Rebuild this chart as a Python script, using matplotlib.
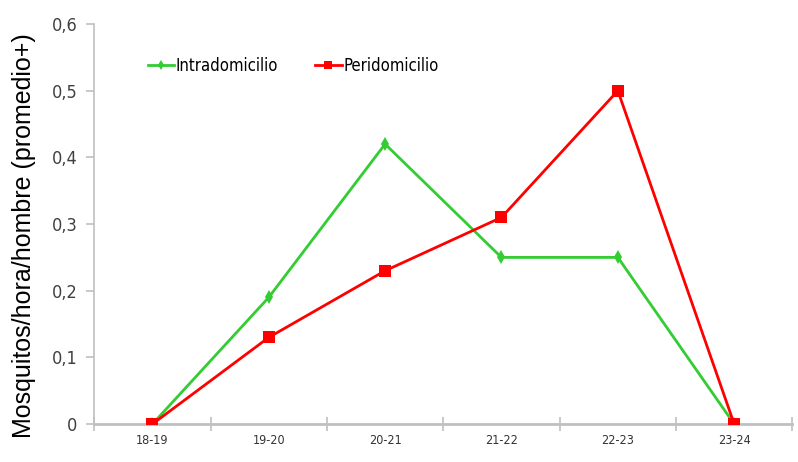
import matplotlib.pyplot as plt

categories = ['18-19', '19-20', '20-21', '21-22', '22-23', '23-24']
intra = [0, 0.19, 0.42, 0.25, 0.25, 0]
peri = [0, 0.13, 0.23, 0.31, 0.50, 0]
yticks = [0, 0.1, 0.2, 0.3, 0.4, 0.5, 0.6]
ytick_labels = ['0', '0,1', '0,2', '0,3', '0,4', '0,5', '0,6']

narrow = {'family': 'DejaVu Sans', 'stretch': 'condensed'}

fig = plt.figure(figsize=(7.98, 4.62), dpi=100)
ax = fig.add_axes([0.118, 0.082, 0.875, 0.866])

x = range(len(categories))
ax.plot(x, intra, color='#33cc33', lw=2, marker='d', ms=7, mew=0, label='Intradomicilio')
ax.plot(x, peri, color='#ff0000', lw=2, marker='s', ms=8, mew=0, label='Peridomicilio')

ax.set_xlim(-0.5, len(categories) - 0.5)
ax.set_ylim(0, 0.6)
ax.set_xticks([i - 0.5 for i in range(len(categories) + 1)])
ax.set_xticklabels([])
ax.set_xticks(list(x), minor=True)
ax.set_xticklabels(categories, minor=True, fontsize=9, color='#333333', **narrow)
ax.tick_params(axis='x', which='major', direction='inout', length=10, color='#c0c0c0', width=1.2)
ax.tick_params(axis='x', which='minor', length=0, pad=7)
ax.set_yticks(yticks)
ax.set_yticklabels(ytick_labels, fontsize=13, color='#404040', **narrow)
ax.tick_params(axis='y', direction='out', length=6, color='#c0c0c0', width=1.2, pad=6)

for s in ['top', 'right']:
    ax.spines[s].set_visible(False)
ax.spines['left'].set_color('#c0c0c0')
ax.spines['bottom'].set_color('#c0c0c0')
ax.spines['left'].set_linewidth(1.2)
ax.spines['bottom'].set_linewidth(2)
ax.spines['bottom'].set_zorder(0)

ax.set_ylabel('Mosquitos/hora/hombre (promedio+)', fontsize=18, family='Liberation Sans')
ax.yaxis.set_label_coords(-0.083, 0.47)

leg = ax.legend(loc='upper left', bbox_to_anchor=(0.055, 0.955), ncol=2, frameon=False,
                prop={'family': 'DejaVu Sans', 'stretch': 'condensed', 'size': 12},
                handlelength=1.6, handletextpad=0.1, columnspacing=2.2, markerscale=0.8)

fig.savefig('out.png', dpi=100)
